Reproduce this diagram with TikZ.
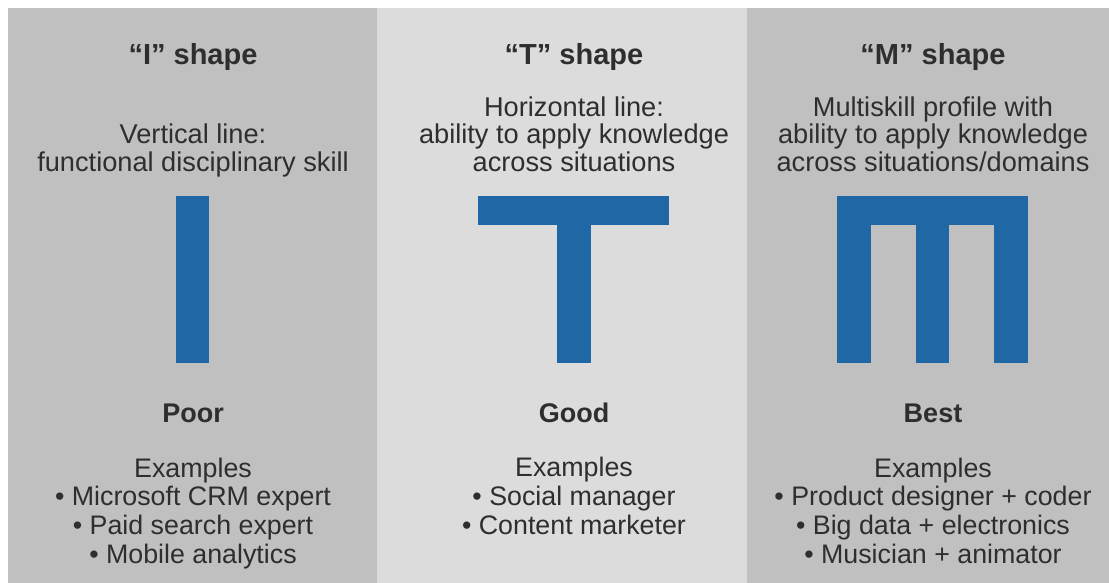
\documentclass[tikz,border=0pt]{standalone}
\usepackage{fontspec}
\setmainfont{Liberation Sans}

\definecolor{panelgray}{HTML}{C0C0C0}
\definecolor{panellight}{HTML}{DCDCDC}
\definecolor{barblue}{HTML}{1F67A5}
\definecolor{textgray}{HTML}{2E2E2E}

\begin{document}
\begin{tikzpicture}[x=0.5pt,y=-0.5pt,
  heading/.style={font=\fontsize{14.5}{16}\selectfont\bfseries,text=textgray,inner sep=0pt,anchor=base},
  desc/.style={font=\fontsize{13.6}{13.75}\selectfont,text=textgray,align=center,inner sep=0pt,anchor=base},
  rating/.style={font=\fontsize{13.5}{15}\selectfont\bfseries,text=textgray,inner sep=0pt,anchor=base},
  examples/.style={font=\fontsize{13.4}{14.3}\selectfont,text=textgray,align=center,inner sep=0pt,anchor=base}]

\fill[white] (0,0) rectangle (1109,583);
\fill[panelgray] (8,8) rectangle (377,583);
\fill[panellight] (377,8) rectangle (747,583);
\fill[panelgray] (747,8) rectangle (1109,583);

% shapes
\fill[barblue] (176,196) rectangle (209,363);

\fill[barblue] (478,196) rectangle (669,225);
\fill[barblue] (557,225) rectangle (591,363);

\fill[barblue] (837,196) rectangle (1028,225);
\fill[barblue] (837,225) rectangle (871,363);
\fill[barblue] (916,225) rectangle (949,363);
\fill[barblue] (994,225) rectangle (1028,363);

% texts (base = baseline of the last line)
\node[heading] (ititle) at (193,65) {“I” shape};
\node[heading] (ttitle) at (574,65) {“T” shape};
\node[heading] (mtitle) at (933,65) {“M” shape};

\node[desc] (idesc) at (193,171) {Vertical line:\\functional disciplinary skill};
\node[desc] (tdesc) at (574,171) {Horizontal line:\\ability to apply knowledge\\across situations};
\node[desc] (mdesc) at (933,171) {Multiskill profile with\\ability to apply knowledge\\across situations/domains};

\node[rating] (poor) at (193,422) {Poor};
\node[rating] (good) at (574,422) {Good};
\node[rating] (best) at (933,422) {Best};

\node[examples] (iex) at (193,563) {Examples\\• Microsoft CRM expert\\• Paid search expert\\• Mobile analytics};
\node[examples] (tex) at (574,534) {Examples\\• Social manager\\• Content marketer};
\node[examples] (mex) at (933,563) {Examples\\• Product designer + coder\\• Big data + electronics\\• Musician + animator};

\end{tikzpicture}
\end{document}
